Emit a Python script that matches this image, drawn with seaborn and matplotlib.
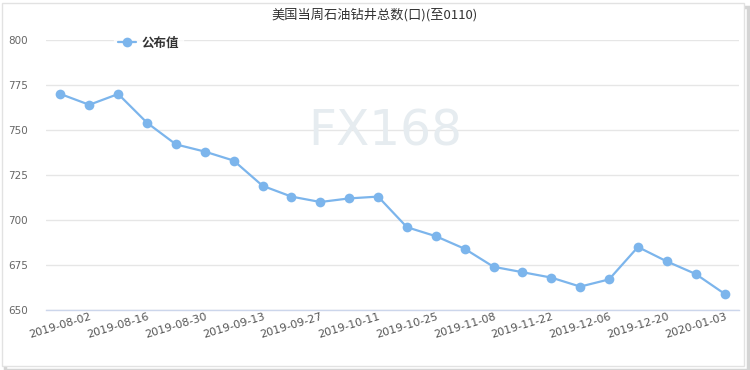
import numpy as np
import pandas as pd
import matplotlib
matplotlib.use("Agg")
import matplotlib.pyplot as plt
from matplotlib.patches import Rectangle
import seaborn as sns

# weekly US oil rig count (Baker Hughes), to 2020-01-10
dates = ["2019-08-02", "2019-08-09", "2019-08-16", "2019-08-23", "2019-08-30",
         "2019-09-06", "2019-09-13", "2019-09-20", "2019-09-27", "2019-10-04",
         "2019-10-11", "2019-10-18", "2019-10-25", "2019-11-01", "2019-11-08",
         "2019-11-15", "2019-11-22", "2019-11-29", "2019-12-06", "2019-12-13",
         "2019-12-20", "2019-12-27", "2020-01-03", "2020-01-10"]
rigs = [770, 764, 770, 754, 742, 738, 733, 719, 713, 710, 712, 713,
        696, 691, 684, 674, 671, 668, 663, 667, 685, 677, 670, 659]
yticks = [650, 675, 700, 725, 750, 775, 800]
title = "美国当周石油钻井总数(口)(至0110)"
series_name = "公布值"

sns.set_style("white")
plt.rcParams["font.family"] = ["Noto Sans CJK SC", "DejaVu Sans"]

df = pd.DataFrame({"pos": np.arange(len(dates)), "value": rigs, "series": series_name})

fig = plt.figure(figsize=(7.5, 3.7), dpi=100)
ax = fig.add_axes([46 / 750, 60 / 370, 693 / 750, 270 / 370])

# frame with light shadow around the whole chart
fig.patches.append(Rectangle((5 / 750, 0.5 / 370), 743 / 750, 363 / 370, transform=fig.transFigure,
                             facecolor="none", edgecolor="#d4d4d4", linewidth=2.5, zorder=-2))
fig.patches.append(Rectangle((2 / 750, 4 / 370), 742 / 750, 363 / 370, transform=fig.transFigure,
                             facecolor="white", edgecolor="#e2e2e2", linewidth=1, zorder=-1))

# watermark
fig.text(385 / 750, 1 - 132 / 370, "FX168", fontsize=35, color="#e6ecf0",
         ha="center", va="center", family="DejaVu Sans", zorder=0)

sns.lineplot(data=df, x="pos", y="value", hue="series", palette=["#7cb5ec"],
             marker="o", markersize=7, markeredgewidth=0, linewidth=1.6, ax=ax, zorder=3)

ax.set_xlim(-0.5, len(dates) - 0.5)
ax.set_ylim(650, 800)
ax.set_yticks(yticks)
ax.set_xticks(np.arange(0, len(dates) - 1, 2))
ax.set_xticklabels(dates[:-1:2], rotation=17, ha="center", family="DejaVu Sans")
ax.set_yticklabels([str(v) for v in yticks], family="DejaVu Sans")
ax.set_xticks(np.arange(1, len(dates), 2), minor=True)
ax.tick_params(axis="x", which="major", length=0, pad=1, labelsize=8, labelcolor="#555555")
ax.tick_params(axis="x", which="minor", length=3, color="#ccd6eb", width=0.8)
ax.tick_params(axis="y", length=0, pad=13, labelsize=7.5, labelcolor="#666666")
ax.set_xlabel("")
ax.set_ylabel("")
ax.grid(axis="y", color="#e6e6e6", linewidth=1)
ax.set_axisbelow(True)
for s in ["top", "right", "left"]:
    ax.spines[s].set_visible(False)
ax.spines["bottom"].set_color("#ccd6eb")
ax.spines["bottom"].set_linewidth(1)
ax.patch.set_alpha(0)

fig.text(0.5, 1 - 15 / 370, title, fontsize=9.5, color="#333333", ha="center", va="center")

leg = ax.legend(loc="center left", bbox_to_anchor=(108 / 750, 1 - 43 / 370),
                bbox_transform=fig.transFigure, frameon=True, fontsize=9,
                handlelength=1.4, handletextpad=0.5, borderpad=0.3)
leg.get_frame().set_facecolor("white")
leg.get_frame().set_edgecolor("white")
for t in leg.get_texts():
    t.set_color("#333333")
    t.set_fontweight("bold")

fig.savefig("out.png", dpi=100)
